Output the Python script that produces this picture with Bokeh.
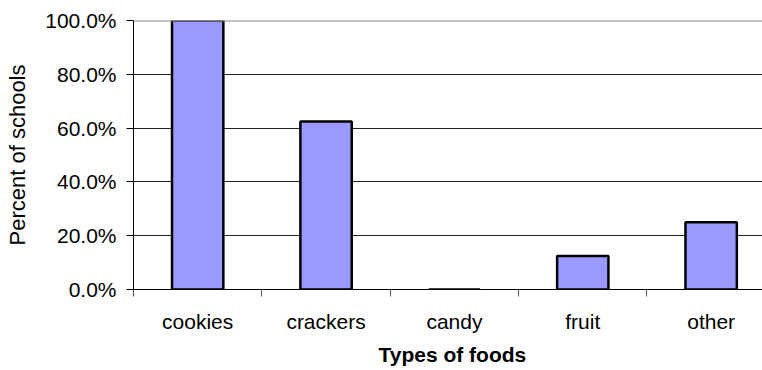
from bokeh.plotting import figure
from bokeh.models import FixedTicker, NumeralTickFormatter, Range1d, Span, ColumnDataSource, Title
from bokeh.embed import file_html
from bokeh.resources import INLINE

# Share of schools offering each type of food
categories = ["cookies", "crackers", "candy", "fruit", "other"]
percent_schools = [1.0, 0.625, 0.0, 0.125, 0.25]
y_ticks = [0.0, 0.2, 0.4, 0.6, 0.8, 1.0]

FONT = "Liberation Sans"

positions = [i + 0.5 for i in range(len(categories))]
boundaries = [float(i) for i in range(len(categories) + 1)]
source = ColumnDataSource(dict(x=positions, top=percent_schools, cat=categories))

p = figure(width=762, height=370, output_backend="svg", toolbar_location=None,
           x_range=Range1d(0, 4.9), y_range=Range1d(0, 1),
           min_border_left=133, min_border_right=0, min_border_top=20,
           min_border_bottom=81)
p.outline_line_color = None
p.background_fill_color = "white"
p.border_fill_color = "white"

# horizontal gridlines
p.xgrid.visible = False
p.ygrid.ticker = FixedTicker(ticks=y_ticks)
p.ygrid.grid_line_color = "#222222"
p.ygrid.grid_line_width = 1
p.add_layout(Span(location=1.0, dimension="width", line_color="#8a8a8a", line_width=2))

p.vbar(x="x", top="top", width=0.4, bottom=0, source=source,
       fill_color="#9999FF", line_color="black", line_width=2.5)

# y axis
yax = p.yaxis[0]
yax.ticker = FixedTicker(ticks=y_ticks, minor_ticks=[])
yax.formatter = NumeralTickFormatter(format="0.0%")
yax.axis_label = "Percent of schools"
yax.axis_label_text_font = FONT
yax.axis_label_text_font_style = "normal"
yax.axis_label_text_font_size = "22px"
yax.axis_label_text_color = "black"
yax.axis_label_standoff = 12
yax.major_label_text_font = FONT
yax.major_label_text_font_size = "21px"
yax.major_label_text_color = "black"
yax.major_label_standoff = 10
yax.major_tick_out = 7
yax.major_tick_in = 0
yax.major_tick_line_color = "black"
yax.axis_line_color = "black"

# x axis: labels centred in each category, tick marks on category boundaries
xax = p.xaxis[0]
xax.ticker = FixedTicker(ticks=positions, minor_ticks=boundaries)
xax.major_label_overrides = {pos: c for pos, c in zip(positions, categories)}
xax.major_label_text_font = FONT
xax.major_label_text_font_size = "21px"
xax.major_label_text_color = "black"
xax.major_label_standoff = 13
xax.major_tick_out = 0
xax.major_tick_in = 0
xax.minor_tick_out = 7
xax.minor_tick_in = 0
xax.minor_tick_line_color = "#555555"
xax.axis_line_color = "black"

# x axis title, centred under the five categories
p.add_layout(Title(text="Types of foods", text_font=FONT, text_font_size="21px",
                   text_font_style="bold", text_color="black", align="left",
                   offset=245, standoff=10), "below")

open("out.html", "w").write(file_html(p, INLINE))
